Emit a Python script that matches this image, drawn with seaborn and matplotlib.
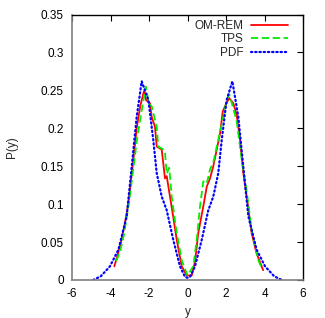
"""Probability distribution P(y): OM-REM vs TPS vs PDF"""

import matplotlib
matplotlib.use("Agg")
import matplotlib.pyplot as plt
import seaborn as sns


# OM-REM (red, solid)
om_x = [-3.8, -3.6, -3.45, -3.25, -3.08, -2.85, -2.64, -2.45, -2.26, -2.15, -1.95,
        -1.86, -1.69, -1.6, -1.34, -1.17, -1.08, -0.91, -0.74, -0.56, -0.3, -0.04,
        0.22, 0.39, 0.56, 0.82, 1.0, 1.17, 1.34, 1.52, 1.69, 1.83, 1.95, 2.16, 2.38,
        2.55, 2.73, 2.9, 3.07, 3.33, 3.59, 3.93]
om_y = [0.018, 0.036, 0.05, 0.075, 0.1, 0.15, 0.2, 0.23, 0.249, 0.237, 0.233,
        0.215, 0.202, 0.176, 0.172, 0.134, 0.137, 0.11, 0.083, 0.053, 0.018, 0.006,
        0.006, 0.024, 0.062, 0.097, 0.123, 0.134, 0.15, 0.172, 0.193, 0.222, 0.229, 0.24, 0.233,
        0.218, 0.185, 0.141, 0.111, 0.062, 0.035, 0.013]

# TPS (green, dashed)
tps_x = [-3.7, -3.5, -3.3, -3.05, -2.85, -2.6, -2.4, -2.17, -2.0, -1.86, -1.6,
         -1.52, -1.25, -1.17, -1.08, -0.95, -0.82, -0.56, -0.3, 0.0, 0.3, 0.48,
         0.65, 0.82, 1.0, 1.17, 1.34, 1.52, 1.78, 2.03, 2.17, 2.38, 2.55, 2.81,
         3.07, 3.33, 3.68, 3.85]
tps_y = [0.025, 0.038, 0.06, 0.1, 0.14, 0.19, 0.22, 0.255, 0.232, 0.229, 0.202,
         0.176, 0.172, 0.168, 0.14, 0.148, 0.11, 0.062, 0.026, 0.006, 0.018, 0.053,
         0.097, 0.13, 0.127, 0.146, 0.155, 0.176, 0.205, 0.237, 0.245, 0.226, 0.21, 0.16,
         0.118, 0.066, 0.026, 0.016]

# PDF (blue, dotted)
pdf_x = [-4.9, -4.5, -4.03, -3.59, -3.16, -2.9, -2.64, -2.38, -2.03, -1.78, -1.6,
         -1.34, -1.08, -0.74, -0.39, -0.13, 0.0, 0.13, 0.39, 0.74, 1.08, 1.34,
         1.6, 1.78, 2.03, 2.33, 2.64, 2.9, 3.16, 3.59, 4.03, 4.5, 4.9]
pdf_y = [0.0, 0.005, 0.018, 0.04, 0.084, 0.149, 0.215, 0.262, 0.237, 0.185, 0.141,
         0.11, 0.092, 0.053, 0.018, 0.004, 0.003, 0.004, 0.018, 0.053, 0.092, 0.11,
         0.141, 0.185, 0.237, 0.262, 0.215, 0.149, 0.084, 0.04, 0.018, 0.005, 0.0]

x_ticks = [-6, -4, -2, 0, 2, 4, 6]
y_ticks = [0, 0.05, 0.1, 0.15, 0.2, 0.25, 0.3, 0.35]
y_tick_labels = ['0', '0.05', '0.1', '0.15', '0.2', '0.25', '0.3', '0.35']

sns.set_style("white")
plt.rcParams['font.family'] = ['Liberation Sans', 'DejaVu Sans']
plt.rcParams['font.size'] = 8.5

fig = plt.figure(figsize=(3.25, 3.18), dpi=100)
ax = fig.add_axes([72 / 325, 1 - 280 / 318, 231 / 325, 265.5 / 318])

sns.lineplot(x=om_x, y=om_y, ax=ax, color='#ff0000', lw=1.3, label='OM-REM',
             sort=False, estimator=None)
sns.lineplot(x=tps_x, y=tps_y, ax=ax, color='#00ee00', lw=1.3, label='TPS',
             sort=False, estimator=None)
ax.lines[-1].set_dashes([4, 2])
sns.lineplot(x=pdf_x, y=pdf_y, ax=ax, color='#0000ff', lw=1.6, label='PDF',
             sort=False, estimator=None)
ax.lines[-1].set_dashes([0.6, 1.3])
ax.lines[-1].set_dash_capstyle('round')

ax.set_xlim(-6, 6)
ax.set_ylim(0, 0.35)
ax.set_xticks(x_ticks)
ax.set_xticklabels([str(t) for t in x_ticks])
ax.set_yticks(y_ticks)
ax.set_yticklabels(y_tick_labels)
ax.tick_params(direction='in', length=4, width=0.8, top=True, right=True,
               labelsize=8.5, colors='black', pad=6)
for side in ['left', 'bottom']:
    ax.spines[side].set_color('#808080')
    ax.spines[side].set_linewidth(1.2)
for side in ['top', 'right']:
    ax.spines[side].set_color('black')
    ax.spines[side].set_linewidth(1.0)

ax.set_xlabel('y', fontsize=8.5, labelpad=4)
ax.set_ylabel('P(y)', fontsize=8.5, labelpad=16)

# gnuplot-style key: text on the left, sample on the right
leg = ax.legend(loc='upper right', bbox_to_anchor=((288 - 72) / 231, (280 - 20) / 265.5),
                frameon=False, markerfirst=False, borderpad=0,
                handlelength=3.1, handletextpad=0.7, labelspacing=0.12,
                borderaxespad=0, fontsize=8.5)

fig.savefig('out.png', dpi=100)
